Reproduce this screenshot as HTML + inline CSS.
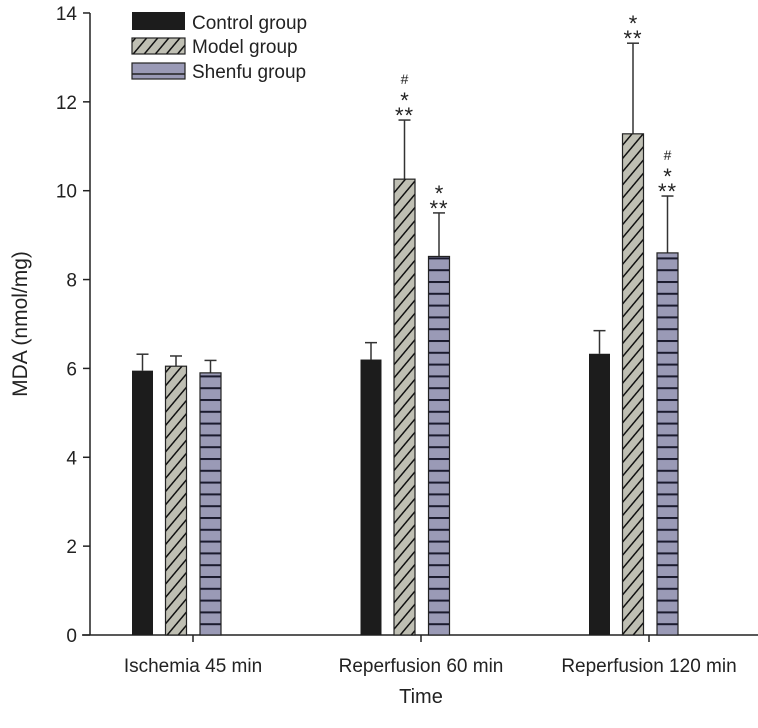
<!DOCTYPE html>
<html><head><meta charset="utf-8"><style>
body{margin:0;background:#fff;}
svg text{font-family:"Liberation Sans",Arial,sans-serif;fill:#222;}
</style></head><body>
<svg id="chart" width="758" height="723" viewBox="0 0 758 723">
<defs>
<pattern id="hatch" patternUnits="userSpaceOnUse" width="20" height="8.5" patternTransform="rotate(-50)">
<rect width="20" height="8.5" fill="#bfbfb3"/>
<rect y="0" width="20" height="1.5" fill="#111"/>
</pattern>
<pattern id="hstripe" patternUnits="userSpaceOnUse" width="21" height="11.8" y="635">
<rect width="21" height="11.8" fill="#9a9ab6"/>
<rect y="0" width="21" height="2" fill="#1a1a2e"/>
</pattern>
</defs>
<g id="axes"></g>
<g id="bars"></g>
<g>
<rect x="132" y="12" width="53" height="18" fill="#1c1c1c"/>
<text x="192" y="29" font-size="19">Control group</text>
<rect x="132" y="38" width="53" height="16" fill="url(#hatch)" stroke="#222" stroke-width="1.2"/>
<text x="192" y="53" font-size="19">Model group</text>
<rect x="132" y="63" width="53" height="16" fill="#9a9ab6" stroke="#222" stroke-width="1.2"/>
<line x1="132" y1="74" x2="185" y2="74" stroke="#222" stroke-width="1.5"/>
<text x="192" y="78" font-size="19">Shenfu group</text>
</g>
</svg>
<script>
const categories = ["Ischemia 45 min","Reperfusion 60 min","Reperfusion 120 min"];
const controlVals = [5.95, 6.2, 6.33];
const controlErr = [0.37, 0.38, 0.52];
const modelVals = [6.05, 10.26, 11.28];
const modelErr = [0.23, 1.33, 2.04];
const shenfuVals = [5.9, 8.52, 8.6];
const shenfuErr = [0.28, 0.98, 1.28];
const yTicks = [0,2,4,6,8,10,12,14];
const marks = [[[],[],[]],[[],["**","*","#"],["**","*"]],[[],["**","*"],["**","*","#"]]];

const NS="http://www.w3.org/2000/svg";
const y = v => 635 - v*44.43;
const groupX = i => 132 + i*228.5;
const tickX = i => 193 + i*228;
function mk(tag, attrs, parent){const e=document.createElementNS(NS,tag);for(const k in attrs)e.setAttribute(k,attrs[k]);parent.appendChild(e);return e;}
const axes=document.getElementById('axes'), bars=document.getElementById('bars');
const yl=mk('line',{x1:90,y1:13,x2:90,y2:635,stroke:'#222','stroke-width':1.5},axes);


const xl=mk('line',{x1:82,y1:635,x2:758,y2:635,stroke:'#222','stroke-width':1.5},axes);


yTicks.forEach(t=>{
  mk('line',{x1:83,y1:y(t),x2:90,y2:y(t),stroke:'#222','stroke-width':1.5},axes);
  const tx=mk('text',{x:77,y:y(t)+7,'font-size':19,'text-anchor':'end'},axes);
  tx.textContent=t;
  
  
});
categories.forEach((c,i)=>{
  mk('line',{x1:tickX(i),y1:635,x2:tickX(i),y2:642,stroke:'#222','stroke-width':1.5},axes);
  const tx=mk('text',{x:tickX(i),y:672,'font-size':19,'text-anchor':'middle'},axes);
  tx.textContent=c;
  
  
});
const xt=mk('text',{x:421,y:703,'font-size':20,'text-anchor':'middle'},axes);
xt.textContent='Time';


const yt=mk('text',{x:0,y:0,'font-size':21,'text-anchor':'middle',transform:'translate(27,324) rotate(-90)'},axes);
yt.textContent='MDA (nmol/mg)';



const series=[[controlVals,controlErr,'#1c1c1c',0,'control'],[modelVals,modelErr,'url(#hatch)',33.5,'model'],[shenfuVals,shenfuErr,'url(#hstripe)',68,'shenfu']];
categories.forEach((c,i)=>{
  series.forEach((s,si)=>{
    const v=s[0][i], e=s[1][i], x=groupX(i)+s[3], w=21;
    const top=y(v+e);
    const el=mk('line',{x1:x+w/2,y1:y(v),x2:x+w/2,y2:top,stroke:'#333','stroke-width':1.5},bars);
    
    
    mk('line',{x1:x+w/2-6,y1:top,x2:x+w/2+6,y2:top,stroke:'#333','stroke-width':1.5},bars);
    const r=mk('rect',{x:x,y:y(v),width:w,height:635-y(v),fill:s[2],stroke:si==0?'none':'#222','stroke-width':1.2},bars);
    
    
    const m=marks[i][si];
    m.forEach((t,k)=>{
      const tx=mk('text',{x:x+w/2,y:top-6-k*15,'font-size':t=='#'?14:22,'text-anchor':'middle','letter-spacing':t=='**'?'1':'0'},bars);
      tx.textContent=t;
      
      
      if(t!='#') tx.setAttribute('dy','9');
    });
  });
});
</script>
</body></html>
